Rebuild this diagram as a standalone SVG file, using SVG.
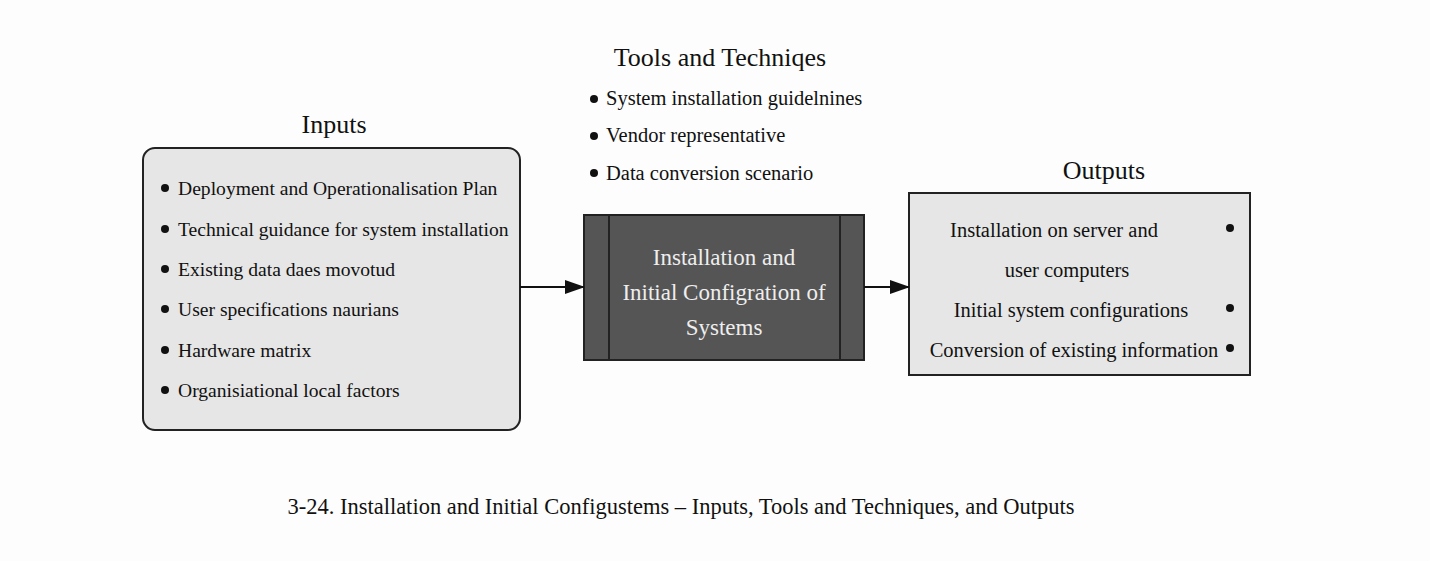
<svg xmlns="http://www.w3.org/2000/svg" width="1430" height="561" viewBox="0 0 1430 561">
<style>
text{font-family:"Liberation Serif","Times New Roman",serif;fill:#111}
.t{font-size:26px;text-anchor:middle}
.i{font-size:19.6px}
.k{font-size:20.5px}
.c{font-size:23px;fill:#eee;text-anchor:middle}
.o{font-size:20.5px;text-anchor:middle}
.cap{font-size:22.5px;text-anchor:middle}
.box{fill:#e6e6e6;stroke:#222;stroke-width:2}
.con{stroke:#111;stroke-width:2;fill:none}
</style>
<defs>
<marker id="ah" markerWidth="20" markerHeight="14" refX="19" refY="7" orient="auto" markerUnits="userSpaceOnUse"><path d="M0,0 L20,7 L0,14 Z" fill="#111"/></marker></defs>
<rect width="1430" height="561" fill="#fdfdfd"/>
<g id="tools">
<text class="t" x="720" y="66">Tools and Techniqes</text>
<circle cx="594" cy="99" r="4" fill="#111"/><text class="k" x="606" y="105">System installation guidelnines</text>
<circle cx="594" cy="136" r="4" fill="#111"/><text class="k" x="606" y="142">Vendor representative</text>
<circle cx="594" cy="173" r="4" fill="#111"/><text class="k" x="606" y="180">Data conversion scenario</text>
</g>
<g id="inputs">
<text class="t" x="334" y="133">Inputs</text>
<rect class="box" x="143" y="148" width="377" height="282" rx="12"/>
<g fill="#111"><circle cx="165" cy="188" r="4"/><circle cx="165" cy="229" r="4"/><circle cx="165" cy="269" r="4"/><circle cx="165" cy="309" r="4"/><circle cx="165" cy="350" r="4"/><circle cx="165" cy="390" r="4"/></g>
<text class="i" x="178" y="195">Deployment and Operationalisation Plan</text>
<text class="i" x="178" y="236">Technical guidance for system installation</text>
<text class="i" x="178" y="276">Existing data daes movotud</text>
<text class="i" x="178" y="316">User specifications naurians</text>
<text class="i" x="178" y="357">Hardware matrix</text>
<text class="i" x="178" y="397">Organisiational local factors</text>
</g>
<g id="process">
<rect x="584" y="215" width="280" height="145" fill="#555" stroke="#222" stroke-width="2"/>
<line x1="609" y1="215" x2="609" y2="360" stroke="#222" stroke-width="2"/>
<line x1="840" y1="215" x2="840" y2="360" stroke="#222" stroke-width="2"/>
<text class="c" x="724" y="265">Installation and</text>
<text class="c" x="724" y="300">Initial Configration of</text>
<text class="c" x="724" y="335">Systems</text>
</g>
<g id="outputs">
<text class="t" x="1104" y="179">Outputs</text>
<rect class="box" x="909" y="193" width="341" height="182"/>
<g fill="#111"><circle cx="1230" cy="228" r="4"/><circle cx="1230" cy="308" r="4"/><circle cx="1230" cy="348" r="4"/></g>
<text class="o" x="1054" y="237">Installation on server and</text>
<text class="o" x="1067" y="277">user computers</text>
<text class="o" x="1071" y="317">Initial system configurations</text>
<text class="o" x="1074" y="357">Conversion of existing information</text>
</g>
<g id="connectors">
<line class="con" x1="520" y1="287" x2="584" y2="287" marker-end="url(#ah)"/>
<line class="con" x1="864" y1="287" x2="909" y2="287" marker-end="url(#ah)"/>
</g>
<text class="cap" x="681" y="514">3-24. Installation and Initial Configustems – Inputs, Tools and Techniques, and Outputs</text>
</svg>
